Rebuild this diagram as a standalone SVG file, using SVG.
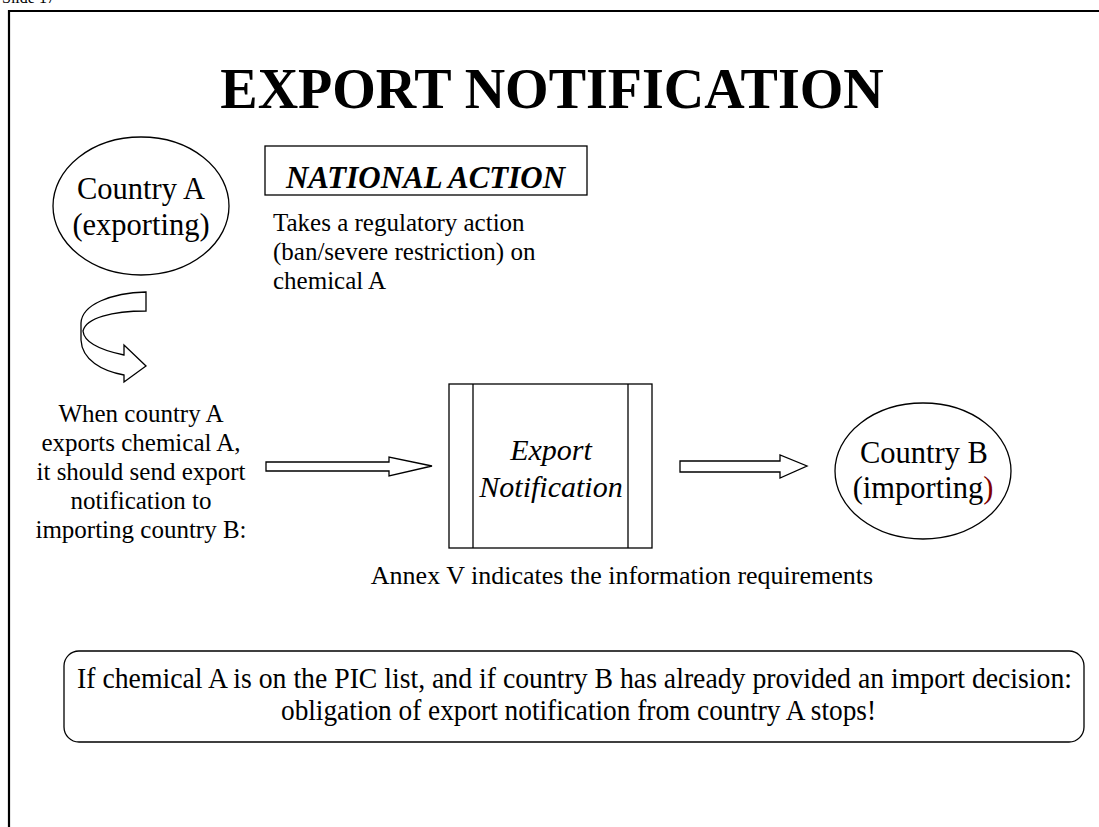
<svg xmlns="http://www.w3.org/2000/svg" width="1099" height="827" viewBox="0 0 1099 827">
<style>
text{font-family:"Liberation Serif","Times New Roman",serif;fill:#000}
.shape{fill:#fff;stroke:#000;stroke-width:1.3}
.c{text-anchor:middle}
.lbl{font-size:25px}
.big{font-size:30.5px}
</style>
<rect width="1099" height="827" fill="#fff"/>
<text x="2" y="3" font-size="16">Slide 17</text>
<path d="M9,827 V11 H1099" fill="none" stroke="#000" stroke-width="2.2"/>
<g id="title">
<text x="552" y="108" class="c" font-size="56" font-weight="bold">EXPORT NOTIFICATION</text>
</g>
<g id="national-action">
<rect x="265" y="146" width="322" height="49" class="shape"/>
<text x="286" y="188" font-size="32" font-weight="bold" font-style="italic" textLength="279" lengthAdjust="spacingAndGlyphs">NATIONAL ACTION</text>
</g>
<g id="country-a">
<ellipse cx="141" cy="206" rx="88" ry="69" class="shape"/>
<text x="141" y="199" class="c big">Country A</text>
<text x="141" y="235" class="c big">(exporting)</text>
</g>
<g id="regulatory-text">
<text x="273" y="231" class="lbl">Takes a regulatory action</text>
<text x="273" y="260" class="lbl">(ban/severe restriction) on</text>
<text x="273" y="289" class="lbl">chemical A</text>
</g>
<g id="curved-arrow">
<path d="M146,292 C112,293 82,304 81,323 L81,340 C82,360 102,371 124,375 L124,382 L146,366 L124,345 L124,355 C100,350 84,342 83,331 C86,318 112,311 146,311 Z" class="shape"/>
</g>
<g id="when-text">
<text x="141" y="422" class="c lbl">When country A</text>
<text x="141" y="451" class="c lbl">exports chemical A,</text>
<text x="141" y="480" class="c lbl">it should send export</text>
<text x="141" y="509" class="c lbl">notification to</text>
<text x="141" y="538" class="c lbl">importing country B:</text>
</g>
<g id="export-notification">
<rect x="449" y="384" width="203" height="164" class="shape"/>
<line x1="473" y1="384" x2="473" y2="548" stroke="#000" stroke-width="1.3"/>
<line x1="628" y1="384" x2="628" y2="548" stroke="#000" stroke-width="1.3"/>
<text x="551" y="460" class="c" font-size="30" font-style="italic">Export</text>
<text x="551" y="497" class="c" font-size="30" font-style="italic">Notification</text>
</g>
<g id="country-b">
<ellipse cx="923" cy="471" rx="88" ry="68" class="shape"/>
<text x="924" y="463" class="c big">Country B</text>
<text x="923" y="498" class="c big">(importing<tspan fill="#800000">)</tspan></text>
</g>
<g id="connectors">
<path d="M266,462 H389 V457 L432,466 L389,476 V471 H266 Z" class="shape"/>
<path d="M680,461 H780 V455 L807,466 L780,478 V472 H680 Z" class="shape"/>
</g>
<g id="annex-text">
<text x="622" y="584" class="c" font-size="26">Annex V indicates the information requirements</text>
</g>
<g id="pic-note">
<rect x="64" y="651" width="1020" height="91" rx="15" class="shape"/>
<text x="77" y="688" font-size="29" textLength="995" lengthAdjust="spacingAndGlyphs">If chemical A is on the PIC list, and if country B has already provided an import decision:</text>
<text x="281" y="720" font-size="29" textLength="595" lengthAdjust="spacingAndGlyphs">obligation of export notification from country A stops!</text>
</g>
</svg>
